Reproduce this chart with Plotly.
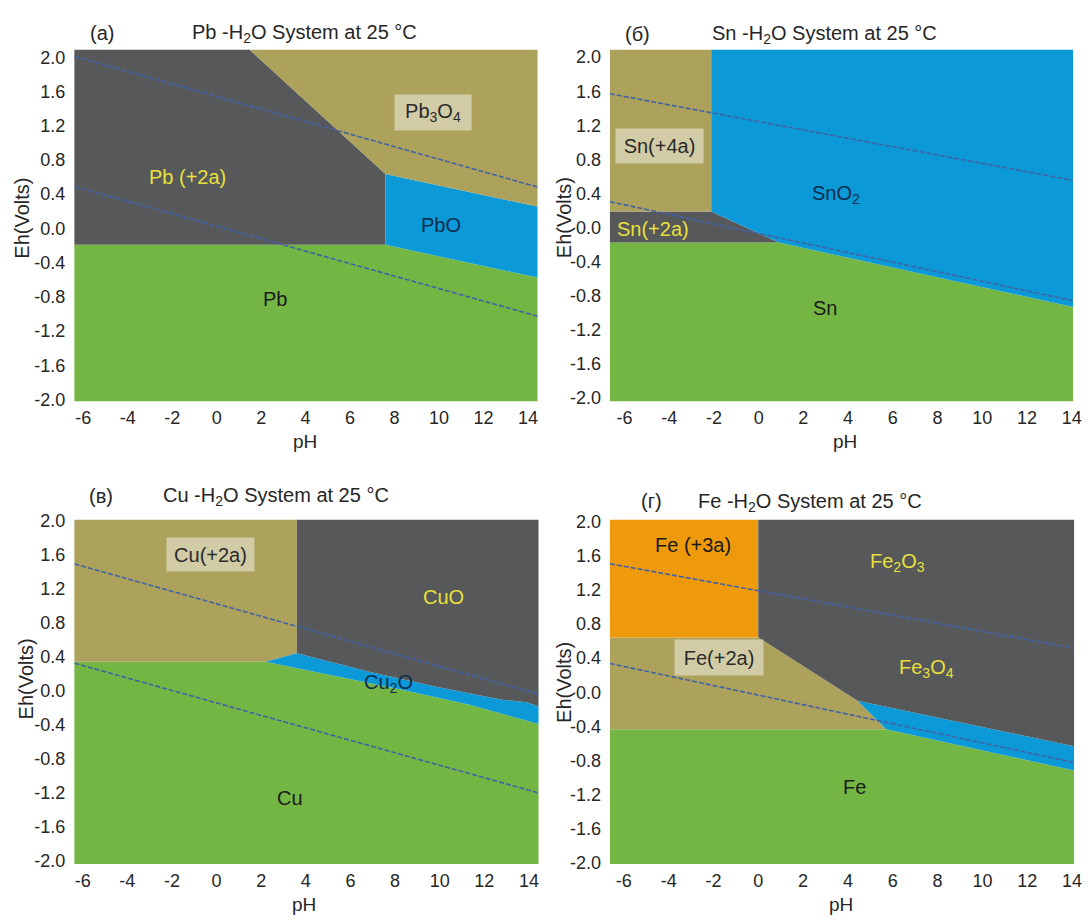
import plotly.graph_objects as go

W, H = 1091, 922

# ---------------- tick labels ----------------
X_TICKS = [-6, -4, -2, 0, 2, 4, 6, 8, 10, 12, 14]
X_TICK_TEXT = ["-6", "-4", "-2", "0", "2", "4", "6", "8", "10", "12", "14"]
Y_TICKS = [2.0, 1.6, 1.2, 0.8, 0.4, 0.0, -0.4, -0.8, -1.2, -1.6, -2.0]
Y_TICK_TEXT = ["2.0", "1.6", "1.2", "0.8", "0.4", "0.0", "-0.4", "-0.8", "-1.2", "-1.6", "-2.0"]

# ---------------- (a) Pb - H2O ----------------
PB_METAL_PH = [-8, 16, 16, 14.43, 7.59, -8]
PB_METAL_EH = [-3, -3, -0.575, -0.575, -0.193, -0.193]
PB_ION_PH = [-8, 7.59, 7.59, 1.48, 1.48, -8]
PB_ION_EH = [-0.193, -0.193, 0.636, 2.088, 3, 3]
PB_PBO_PH = [7.59, 14.43, 16, 16, 14.43, 7.59]
PB_PBO_EH = [-0.193, -0.575, -0.575, 0.254, 0.254, 0.636]
PB_PB3O4_PH = [7.59, 14.43, 16, 16, 1.48, 1.48]
PB_PB3O4_EH = [0.636, 0.254, 0.254, 3, 3, 2.088]
PB_WATER_PH = [-6.4, 14.43]
PB_WATER_UP = [2.01, 0.483]
PB_WATER_LO = [0.49, -1.026]

# ---------------- (б) Sn - H2O ----------------
SN_METAL_PH = [-8, 16, 16, 14.06, 0.9, -8]
SN_METAL_EH = [-3, -3, -0.933, -0.933, -0.177, -0.177]
SN_ION2_PH = [-8, 0.9, -2.12, -8]
SN_ION2_EH = [-0.177, -0.177, 0.188, 0.188]
SN_ION4_PH = [-8, -2.12, -2.12, -8]
SN_ION4_EH = [0.188, 0.188, 3, 3]
SN_OXIDE_PH = [-2.12, 0.9, 14.06, 16, 16, -2.12]
SN_OXIDE_EH = [0.188, -0.177, -0.933, -0.933, 3, 3]
SN_WATER_PH = [-6.65, 14.06]
SN_WATER_UP = [1.57, 0.553]
SN_WATER_LO = [0.303, -0.86]

# ---------------- (в) Cu - H2O ----------------
CU_METAL_PH = [-8, 16, 16, 14.43, 11.33, 8.37, 2.2, -8]
CU_METAL_EH = [-3, -3, -0.39, -0.39, -0.163, 0.01, 0.34, 0.34]
CU_ION_PH = [-8, 2.2, 3.6, 3.6, -8]
CU_ION_EH = [0.34, 0.34, 0.44, 3, 3]
CU_CU2O_PH = [2.2, 8.37, 11.33, 14.43, 16, 16, 14.43, 13.9, 12.8, 9.85, 6.89, 3.6]
CU_CU2O_EH = [0.34, 0.01, -0.163, -0.39, -0.39, -0.185, -0.185, -0.135, -0.105, 0.047, 0.22, 0.44]
CU_CUO_PH = [3.6, 6.89, 9.85, 12.8, 13.9, 14.43, 16, 16, 3.6]
CU_CUO_EH = [0.44, 0.22, 0.047, -0.105, -0.135, -0.185, -0.185, 3, 3]
CU_WATER_PH = [-6.37, 14.43]
CU_WATER_UP = [1.49, -0.04]
CU_WATER_LO = [0.324, -1.2]

# ---------------- (г) Fe - H2O ----------------
FE_METAL_PH = [-8, 16, 16, 14.09, 5.7, -8]
FE_METAL_EH = [-3, -3, -0.916, -0.916, -0.433, -0.433]
FE_ION2_PH = [-8, 5.7, 4.43, 0.0, -8]
FE_ION2_EH = [-0.433, -0.433, -0.099, 0.643, 0.643]
FE_ION3_PH = [-8, 0.0, 0.0, -8]
FE_ION3_EH = [0.643, 0.643, 3, 3]
FE_BLUE_PH = [4.43, 14.09, 16, 16, 14.09, 5.7]
FE_BLUE_EH = [-0.099, -0.631, -0.631, -0.916, -0.916, -0.433]
FE_OXIDE_PH = [0.0, 4.43, 14.09, 16, 16, 0.0]
FE_OXIDE_EH = [0.643, -0.099, -0.631, -0.631, 3, 3]
FE_WATER_PH = [-6.62, 14.09]
FE_WATER_UP = [1.506, 0.517]
FE_WATER_LO = [0.338, -0.821]

# ---------------- colours ----------------
GREEN = "#73b644"
DARK = "#57585a"
OLIVE = "#aca25b"
BLUE = "#0b9ad7"
ORANGE = "#ef990c"
YELLOW_TXT = "#e8e03c"
NAVY_TXT = "#0e2c4e"
BLACK_TXT = "#1b1b1b"
WATER = "#4262a6"
FONT = "Liberation Sans, Arial, sans-serif"

fig = go.Figure()

panels = [
    dict(ax="", xr=[-6.4, 14.43], yr=[-2.02, 2.088], xd=(75, 542), yd=(41.5, 400)),
    dict(ax="2", xr=[-6.65, 14.06], yr=[-2.04, 2.088], xd=(615, 1082), yd=(41.5, 400)),
    dict(ax="3", xr=[-6.37, 14.43], yr=[-2.035, 2.008], xd=(75, 543), yd=(521, 872)),
    dict(ax="4", xr=[-6.62, 14.09], yr=[-2.01, 2.02], xd=(615, 1083), yd=(521, 872)),
]

regions = [
    [(PB_METAL_PH, PB_METAL_EH, GREEN), (PB_ION_PH, PB_ION_EH, DARK),
     (PB_PBO_PH, PB_PBO_EH, BLUE), (PB_PB3O4_PH, PB_PB3O4_EH, OLIVE)],
    [(SN_METAL_PH, SN_METAL_EH, GREEN), (SN_ION2_PH, SN_ION2_EH, DARK),
     (SN_ION4_PH, SN_ION4_EH, OLIVE), (SN_OXIDE_PH, SN_OXIDE_EH, BLUE)],
    [(CU_METAL_PH, CU_METAL_EH, GREEN), (CU_ION_PH, CU_ION_EH, OLIVE),
     (CU_CU2O_PH, CU_CU2O_EH, BLUE), (CU_CUO_PH, CU_CUO_EH, DARK)],
    [(FE_METAL_PH, FE_METAL_EH, GREEN), (FE_ION2_PH, FE_ION2_EH, OLIVE),
     (FE_ION3_PH, FE_ION3_EH, ORANGE), (FE_BLUE_PH, FE_BLUE_EH, BLUE),
     (FE_OXIDE_PH, FE_OXIDE_EH, DARK)],
]

waters = [
    (PB_WATER_PH, PB_WATER_UP, PB_WATER_LO),
    (SN_WATER_PH, SN_WATER_UP, SN_WATER_LO),
    (CU_WATER_PH, CU_WATER_UP, CU_WATER_LO),
    (FE_WATER_PH, FE_WATER_UP, FE_WATER_LO),
]

for p, regs, wat in zip(panels, regions, waters):
    xa, ya = "x" + p["ax"], "y" + p["ax"]
    for xs, ys, col in regs:
        fig.add_trace(go.Scatter(x=xs, y=ys, fill="toself", fillcolor=col, mode="lines",
                                 line=dict(width=0, color=col), hoverinfo="skip",
                                 showlegend=False, xaxis=xa, yaxis=ya))
    for ys in (wat[1], wat[2]):
        fig.add_trace(go.Scatter(x=wat[0], y=ys, mode="lines",
                                 line=dict(width=1.6, color=WATER, dash="5px,2px"),
                                 hoverinfo="skip", showlegend=False, xaxis=xa, yaxis=ya))

layout = dict(width=W, height=H, margin=dict(l=0, r=0, t=0, b=0),
              paper_bgcolor="white", plot_bgcolor="white", showlegend=False,
              font=dict(family=FONT, color="#262626"))
for p in panels:
    kx = "xaxis" + p["ax"]
    ky = "yaxis" + p["ax"]
    xa, ya = "x" + p["ax"], "y" + p["ax"]
    layout[kx] = dict(domain=[p["xd"][0] / W, p["xd"][1] / W], range=p["xr"], anchor=ya,
                      tickvals=X_TICKS, ticktext=X_TICK_TEXT, showgrid=False, zeroline=False,
                      showline=False, ticks="", ticklabelstandoff=4,
                      tickfont=dict(size=18, family=FONT, color="#262626"))
    layout[ky] = dict(domain=[1 - p["yd"][1] / H, 1 - p["yd"][0] / H], range=p["yr"], anchor=xa,
                      tickvals=Y_TICKS, ticktext=Y_TICK_TEXT, showgrid=False, zeroline=False,
                      showline=False, ticks="", ticklabelstandoff=8,
                      tickfont=dict(size=18, family=FONT, color="#262626"))
fig.update_layout(**layout)

ann = []


def paper_text(txt, px, py, size=20, angle=0):
    ann.append(dict(text=txt, x=px / W, y=1 - py / H, xref="paper", yref="paper",
                    showarrow=False, xanchor="center", yanchor="middle", textangle=angle,
                    font=dict(size=size, family=FONT, color="#262626")))


# panel titles
paper_text("(a)", 103, 24)
paper_text("Pb -H<sub>2</sub>O System at 25 °C", 307, 25)
paper_text("(б)", 643, 26)
paper_text("Sn -H<sub>2</sub>O System at 25 °C", 831, 26)
paper_text("(в)", 102, 497)
paper_text("Cu -H<sub>2</sub>O System at 25 °C", 278, 497)
paper_text("(г)", 657, 502)
paper_text("Fe -H<sub>2</sub>O System at 25 °C", 817, 503)

# axis titles
for px, py in [(308, 441), (852, 441), (307, 913), (848, 913)]:
    paper_text("pH", px, py, size=19)
for px, py in [(22, 213), (569, 213), (26, 683), (568, 687)]:
    paper_text("Eh(Volts)", px, py, size=20, angle=-90)


def region_label(ax, txt, x, y, color, box=None):
    a = dict(text=txt, x=x, y=y, xref="x" + ax, yref="y" + ax, showarrow=False,
             xanchor="center", yanchor="middle",
             font=dict(size=20, family=FONT, color=color))
    if box:
        a.update(bgcolor="rgba(255,255,255,0.45)", width=box[0], height=box[1], borderpad=0)
    ann.append(a)


region_label("", "Pb (+2a)", -1.33, 0.6, YELLOW_TXT)
region_label("", "Pb<sub>3</sub>O<sub>4</sub>", 9.72, 1.35, "#2a2a2a", box=(76, 35))
region_label("", "PbO", 10.1, 0.036, NAVY_TXT)
region_label("", "Pb", 2.64, -0.82, BLACK_TXT)

region_label("2", "Sn(+4a)", -4.45, 0.956, "#2a2a2a", box=(87, 34))
region_label("2", "SnO<sub>2</sub>", 3.47, 0.39, NAVY_TXT)
region_label("2", "Sn(+2a)", -4.72, -0.02, YELLOW_TXT)
region_label("2", "Sn", 2.96, -0.94, BLACK_TXT)

region_label("3", "Cu(+2a)", -0.27, 1.605, "#2a2a2a", box=(87, 33))
region_label("3", "CuO", 10.17, 1.106, YELLOW_TXT)
region_label("3", "Cu<sub>2</sub>O", 7.71, 0.09, NAVY_TXT)
region_label("3", "Cu", 3.3, -1.26, BLACK_TXT)

region_label("4", "Fe (+3a)", -2.91, 1.72, BLACK_TXT)
region_label("4", "Fe<sub>2</sub>O<sub>3</sub>", 6.21, 1.517, YELLOW_TXT)
region_label("4", "Fe(+2a)", -1.75, 0.403, "#2a2a2a", box=(88, 35))
region_label("4", "Fe<sub>3</sub>O<sub>4</sub>", 7.51, 0.281, YELLOW_TXT)
region_label("4", "Fe", 4.28, -1.106, BLACK_TXT)

fig.update_layout(annotations=ann)
fig.write_html(
    "out.html",
    config={"displayModeBar": False},
    post_script=(
        "document.documentElement.style.margin='0';"
        "document.body.style.margin='0';"
        "document.documentElement.style.overflow='hidden';"
        "document.body.style.overflow='hidden';"
        "var d=document.getElementById('{plot_id}');"
        "d.style.position='fixed';d.style.left='0px';d.style.top='0px';"
    ),
)
